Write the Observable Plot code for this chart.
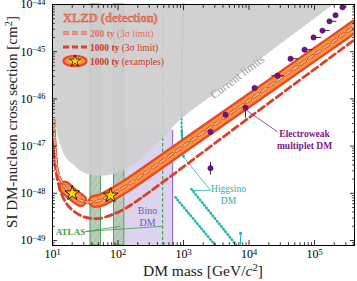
<!DOCTYPE html>
<html>
<head>
<meta charset="utf-8">
<script src="https://cdn.jsdelivr.net/npm/d3@7"></script>
<script src="https://cdn.jsdelivr.net/npm/@observablehq/plot@0.6"></script>
<style>
html,body{margin:0;padding:0;background:#fff;}
#chart svg{display:block;}
</style>
</head>
<body>
<div id="chart"></div>
<script>
// ---------------- data ----------------
// current limits (lower boundary of the grey excluded region)
const limitMass  = [10, 11.1, 12.3, 14.2, 16.9, 20.9, 26.8, 38, 54, 85, 130, 220, 372, 570, 810, 2600, 15000, 200000];
const limitSigma = [5.9e-47, 3.2e-47, 1.55e-47, 8.1e-48, 5.2e-48, 4.0e-48, 2.95e-48, 2.4e-48, 2.3e-48, 2.5e-48, 3.1e-48, 5.0e-48, 1.0e-47, 1.8e-47, 3.1e-47, 1.1e-46, 6.8e-46, 1.0e-44];

// XLZD 1000 ty 3-sigma limit
const lim1000Mass  = [10, 11.1, 12.4, 14.7, 18.8, 26.7, 38, 54, 82, 130, 221, 10500, 407000];
const lim1000Sigma = [1.35e-47, 3.4e-48, 1.55e-48, 7.8e-49, 4.8e-49, 3.4e-49, 2.95e-49, 2.95e-49, 3.55e-49, 4.8e-49, 7.8e-49, 4.2e-47, 1.8e-45];

// XLZD 200 ty 3-sigma limit
const lim200Mass  = [10.5, 11.1, 12.4, 15.8, 20.2, 26.7, 38, 54, 77, 130, 1000, 10000, 100000, 407000];
const lim200Sigma = [3.5e-47, 8.1e-48, 2.4e-48, 1.3e-48, 9.5e-49, 7.1e-49, 6.5e-49, 7.1e-49, 9.1e-49, 1.4e-48, 1.0e-47, 9.3e-47, 8.7e-46, 3.4e-45];

// 1000 ty example contours (centre lines)
const bandMass    = [44, 54, 77, 130, 1000, 10000, 100000, 407000];
const bandSigma   = [6.8e-49, 7.1e-49, 9.1e-49, 1.4e-48, 1.0e-47, 9.3e-47, 8.7e-46, 3.4e-45];
const islandMass  = [15.3, 20.2, 26.8];
const islandSigma = [1.35e-48, 9.5e-49, 7.1e-49];
const starMass    = [20, 77];
const starSigma   = [1.0e-48, 9.0e-49];

// ATLAS bands and Bino region
const atlasLo   = [38, 87];
const atlasHi   = [55, 125];
const atlasLine = [480];
const binoMass  = [125, 680];
const binoTop   = [2.2e-47];

// Higgsino DM
const higgsVertMass  = [1000, 950, 930, 940, 1000];
const higgsVertSigma = [1e-44, 1e-45, 1e-46, 2e-47, 5.9e-48];
const higgs1Mass  = [755, 3400];
const higgs1Sigma = [8.2e-49, 6.6e-50];
const higgs2Mass  = [1325, 7000];
const higgs2Sigma = [1.22e-48, 6.8e-50];
const higgs3Mass  = [7420, 7420];
const higgs3Sigma = [1.41e-49, 6.0e-50];

// Electroweak multiplet DM
const ewMass    = [2580, 2580, 4375, 8850, 12150, 27200, 43000, 70300, 96600, 132000, 169000, 209000, 267000];
const ewSigma   = [3.4e-48, 2.0e-47, 4.6e-47, 6.5e-47, 1.7e-46, 3.1e-46, 7.1e-46, 1.1e-45, 2.0e-45, 2.8e-45, 4.4e-45, 5.9e-45, 8.7e-45];
const ewMassLo  = [2580, 2580, 4375, 8850, 12150, 22000, 43000, 70300, 96600, 132000, 169000, 209000, 267000];
const ewMassHi  = [2580, 2580, 4375, 8850, 12150, 34000, 56000, 92000, 125000, 170000, 215000, 209000, 267000];
const ewSigmaLo = [2.5e-48, 2.0e-47, 4.6e-47, 4.0e-47, 1.7e-46, 3.1e-46, 7.1e-46, 1.1e-45, 2.0e-45, 2.8e-45, 4.4e-45, 5.9e-45, 8.7e-45];
const ewSigmaHi = [4.6e-48, 2.0e-47, 4.6e-47, 7.5e-47, 1.7e-46, 3.1e-46, 7.1e-46, 1.1e-45, 2.0e-45, 2.8e-45, 4.4e-45, 5.9e-45, 8.7e-45];

// annotations
const atlasLeadFrom = [31.9, 1.55e-49];
const atlasLeadTo   = [[109, 2.0e-49], [480, 2.0e-49]];
const higgsLeadFrom = [2580, 1.15e-48];
const higgsLeadTo   = [[1000, 5.9e-48], [1370, 1.15e-48]];
const ewLead        = [[8850, 5.9e-47], [27200, 2.0e-47]];

// ticks
const xMin = 10, xMax = 4.07e5, yMin = 7.83e-50, yMax = 1e-44;
const xMajor = [1e1, 1e2, 1e3, 1e4, 1e5];
const yMajor = [1e-49, 1e-48, 1e-47, 1e-46, 1e-45, 1e-44];
const xMinor = [];
for (let e = 1; e <= 5; e++) for (let k = 2; k <= 9; k++) { const v = k * 10 ** e; if (v <= xMax) xMinor.push(v); }
const yMinor = [];
for (let e = -50; e <= -45; e++) for (let k = 2; k <= 9; k++) { const v = k * Math.pow(10, e); if (v >= yMin && v <= yMax) yMinor.push(v); }

// ---------------- helpers ----------------
const idx = a => a.map((_, i) => i);
const pow = d => "10^" + Math.round(Math.log10(d));
const none = () => "";
const FONT = "'Liberation Serif', 'DejaVu Serif', serif";

const defs = () => {
  const d = d3.create("svg:defs");
  const p = d.append("pattern").attr("id", "hatch").attr("patternUnits", "userSpaceOnUse")
    .attr("width", 5).attr("height", 5).attr("patternTransform", "rotate(35)");
  p.append("rect").attr("width", 5).attr("height", 5).attr("fill", "#bccabc");
  p.append("line").attr("x1", 0).attr("y1", 0).attr("x2", 0).attr("y2", 5)
    .attr("stroke", "#9aae9b").attr("stroke-width", 1);
  return d.node();
};

const tickStyle = {stroke: "black", strokeWidth: 0.8, tickFormat: none, label: null};

const plot = Plot.plot({
  width: 357, height: 281,
  marginLeft: 52, marginRight: 3, marginTop: 4, marginBottom: 36,
  style: {fontFamily: FONT, background: "white", color: "black"},
  x: {type: "log", domain: [xMin, xMax]},
  y: {type: "log", domain: [yMin, yMax]},
  marks: [
    defs,
    // Bino region
    Plot.rect([0], {x1: () => binoMass[0], x2: () => binoMass[1], y1: () => yMin, y2: () => binoTop[0], fill: "#ddd3ee"}),
    Plot.link([0], {x1: () => binoMass[1], x2: () => binoMass[1], y1: () => yMin, y2: () => binoTop[0], stroke: "#9474cf", strokeWidth: 1.2}),
    // ATLAS bands
    Plot.rect(idx(atlasLo), {x1: i => atlasLo[i], x2: i => atlasHi[i], y1: () => yMin, y2: () => yMax, fill: "url(#hatch)", stroke: "#3f9c48", strokeWidth: 0.9}),
    Plot.link(atlasLine, {x1: d => d, x2: d => d, y1: () => yMin, y2: () => yMax, stroke: "#3f9c48", strokeWidth: 1.1, strokeDasharray: "3.5 2"}),
    // Higgsino vertical (under grey)
    Plot.line(idx(higgsVertMass), {x: higgsVertMass, y: higgsVertSigma, stroke: "#25b3a9", strokeWidth: 0.7, curve: "catmull-rom"}),
    Plot.line(idx(higgsVertMass), {x: higgsVertMass, y: higgsVertSigma, stroke: "#25b3a9", strokeWidth: 2.4, strokeDasharray: "0.1 3.6", strokeLinecap: "round", curve: "catmull-rom"}),
    // current limits
    Plot.areaY(idx(limitMass), {x: limitMass, y1: limitSigma, y2: () => yMax, fill: "#cdcdcd", fillOpacity: 0.92, curve: "catmull-rom", clip: true}),
    Plot.text([0], {x: () => 6670, y: () => 2.9e-46, text: () => "Current limits", rotate: -37, fill: "#9a9a9a", fontSize: 11.5}),
    // Higgsino (above grey)
    Plot.line(idx(higgsVertMass).slice(-2), {x: i => higgsVertMass[i], y: i => higgsVertSigma[i], stroke: "#25b3a9", strokeWidth: 2.6, strokeDasharray: "0.1 3.4", strokeLinecap: "round"}),
    Plot.line(idx(higgs1Mass), {x: higgs1Mass, y: higgs1Sigma, stroke: "#25b3a9", strokeWidth: 1, clip: true}),
    Plot.line(idx(higgs1Mass), {x: higgs1Mass, y: higgs1Sigma, stroke: "#25b3a9", strokeWidth: 2.7, strokeDasharray: "0.1 3.3", strokeLinecap: "round", clip: true}),
    Plot.line(idx(higgs2Mass), {x: higgs2Mass, y: higgs2Sigma, stroke: "#25b3a9", strokeWidth: 1, clip: true}),
    Plot.line(idx(higgs2Mass), {x: higgs2Mass, y: higgs2Sigma, stroke: "#25b3a9", strokeWidth: 2.7, strokeDasharray: "0.1 3.3", strokeLinecap: "round", clip: true}),
    Plot.line(idx(higgs3Mass), {x: higgs3Mass, y: higgs3Sigma, stroke: "#25b3a9", strokeWidth: 1, clip: true}),
    Plot.dot([0], {x: () => higgs3Mass[0], y: () => higgs3Sigma[0], r: 1.6, fill: "#25b3a9"}),
    Plot.link(higgsLeadTo, {x1: () => higgsLeadFrom[0], y1: () => higgsLeadFrom[1], x2: d => d[0], y2: d => d[1], stroke: "#25b3a9", strokeWidth: 0.8}),
    Plot.text([0], {x: () => 4860, y: () => 9.5e-49, text: () => "Higgsino\nDM", fill: "#25b3a9", fontSize: 9.5, lineHeight: 1.2}),
    // ATLAS label
    Plot.link(atlasLeadTo, {x1: () => atlasLeadFrom[0], y1: () => atlasLeadFrom[1], x2: d => d[0], y2: d => d[1], stroke: "#3f9c48", strokeWidth: 0.8}),
    Plot.text([0], {x: () => 18.8, y: () => 1.5e-49, text: () => "ATLAS", fill: "#3f9c48", fontSize: 9, fontWeight: "bold"}),
    // Bino label
    Plot.text([0], {x: () => 282, y: () => 3.3e-49, text: () => "Bino\nDM", fill: "#7b55b5", fontSize: 10, lineHeight: 1.2}),
    // XLZD example contours
    Plot.line(idx(bandMass), {x: bandMass, y: bandSigma, stroke: "#e8472b", strokeWidth: 13.5, strokeLinecap: "round", curve: "catmull-rom", clip: true}),
    Plot.line(idx(bandMass), {x: bandMass, y: bandSigma, stroke: "#f8923a", strokeWidth: 9, strokeLinecap: "round", curve: "catmull-rom", clip: true}),
    Plot.line(idx(bandMass), {x: bandMass, y: bandSigma, stroke: "#ffd23c", strokeWidth: 3.2, strokeLinecap: "round", curve: "catmull-rom", clip: true}),
    Plot.line(idx(islandMass), {x: islandMass, y: islandSigma, stroke: "#e8472b", strokeWidth: 13.5, strokeLinecap: "round", curve: "catmull-rom"}),
    Plot.line(idx(islandMass), {x: islandMass, y: islandSigma, stroke: "#f8923a", strokeWidth: 9, strokeLinecap: "round", curve: "catmull-rom"}),
    Plot.line(idx(islandMass), {x: islandMass, y: islandSigma, stroke: "#ffd23c", strokeWidth: 3.2, strokeLinecap: "round", curve: "catmull-rom"}),
    // limits
    Plot.line(idx(lim1000Mass), {x: lim1000Mass, y: lim1000Sigma, stroke: "#d8412c", strokeWidth: 2.8, strokeDasharray: "7 4", curve: "catmull-rom", clip: true}),
    Plot.line(idx(lim200Mass), {x: lim200Mass, y: lim200Sigma, stroke: "#d8452f", strokeWidth: 3.2, strokeDasharray: "6 3.5", curve: "catmull-rom", clip: true}),
    Plot.line(idx(lim200Mass), {x: lim200Mass, y: lim200Sigma, stroke: "#f5b09a", strokeWidth: 1.6, strokeDasharray: "6 3.5", curve: "catmull-rom", clip: true}),
    // stars
    Plot.dot(idx(starMass), {x: starMass, y: starSigma, symbol: "star", r: 4.6, fill: "#ffd700", stroke: "black", strokeWidth: 0.8}),
    // Electroweak multiplets
    Plot.link(idx(ewMass), {x1: ewMassLo, x2: ewMassHi, y1: ewSigma, y2: ewSigma, stroke: "#2a0a33", strokeWidth: 0.9, clip: true}),
    Plot.link(idx(ewMass), {x1: ewMass, x2: ewMass, y1: ewSigmaLo, y2: ewSigmaHi, stroke: "#2a0a33", strokeWidth: 0.9}),
    Plot.dot(idx(ewMass), {x: ewMass, y: ewSigma, r: 2.7, fill: "#6b1580", stroke: "#3b0748", strokeWidth: 0.4}),
    Plot.link([ewLead], {x1: d => d[0][0], y1: d => d[0][1], x2: d => d[1][0], y2: d => d[1][1], stroke: "#8a2a96", strokeWidth: 0.8}),
    Plot.text([0], {x: () => 70300, y: () => 1.4e-47, text: () => "Electroweak\nmultiplet DM", fill: "#7d1a8c", fontSize: 9.5, fontWeight: "bold", lineHeight: 1.25}),
    // frame and axes
    Plot.frame({stroke: "black", strokeWidth: 1}),
    Plot.axisX(xMajor, {anchor: "bottom", tickSize: -5, ...tickStyle}),
    Plot.axisX(xMinor, {anchor: "bottom", tickSize: -2.8, ...tickStyle}),
    Plot.axisX(xMajor, {anchor: "top", tickSize: -5, ...tickStyle}),
    Plot.axisX(xMinor, {anchor: "top", tickSize: -2.8, ...tickStyle}),
    Plot.axisY(yMajor, {anchor: "left", tickSize: -5, ...tickStyle}),
    Plot.axisY(yMinor, {anchor: "left", tickSize: -2.8, ...tickStyle}),
    Plot.axisY(yMajor, {anchor: "right", tickSize: -5, ...tickStyle}),
    Plot.axisY(yMinor, {anchor: "right", tickSize: -2.8, ...tickStyle}),
    Plot.axisX(xMajor, {anchor: "bottom", tickSize: 0, tickPadding: 4, tickFormat: pow, fontSize: 12, label: null}),
    Plot.axisY(yMajor, {anchor: "left", tickSize: 0, tickPadding: 7, tickFormat: pow, fontSize: 12, label: null})
  ]
});

// ---------------- post-processing: superscripts, labels, legend ----------------
const NS = "http://www.w3.org/2000/svg";
d3.select(plot).selectAll("text").each(function () {
  const m = /^10\^(-?\d+)$/.exec(this.textContent);
  if (!m) return;
  while (this.firstChild) this.removeChild(this.firstChild);
  this.appendChild(document.createTextNode("10"));
  const ts = document.createElementNS(NS, "tspan");
  ts.setAttribute("dy", "-0.42em");
  ts.setAttribute("font-size", "0.7em");
  ts.textContent = m[1].replace("-", "\u2212");
  this.appendChild(ts);
});

const svg = d3.select(plot);
// axis titles
const yl = svg.append("text").attr("transform", "translate(17,122) rotate(-90)")
  .attr("text-anchor", "middle").attr("font-family", FONT).attr("font-size", 15).attr("fill", "#222");
yl.append("tspan").text("SI DM-nucleon cross section [cm");
yl.append("tspan").attr("dy", "-0.45em").attr("font-size", "0.7em").text("2");
yl.append("tspan").attr("dy", "0.315em").text("]");

const xl = svg.append("text").attr("x", 203).attr("y", 276)
  .attr("text-anchor", "middle").attr("font-family", FONT).attr("font-size", 15.5).attr("fill", "#222");
xl.append("tspan").text("DM mass [GeV/");
xl.append("tspan").attr("font-style", "italic").text("c");
xl.append("tspan").attr("dy", "-0.45em").attr("font-size", "0.7em").text("2");
xl.append("tspan").attr("dy", "0.315em").text("]");

// legend
const lg = svg.append("g").attr("font-family", FONT).attr("text-anchor", "start");
lg.append("text").attr("x", 63).attr("y", 22).attr("font-size", 12.5).attr("font-weight", "bold")
  .attr("fill", "#ee8467").attr("stroke", "#cf4a33").attr("stroke-width", 0.35).text("XLZD (detection)");
lg.append("line").attr("x1", 63).attr("x2", 87).attr("y1", 33).attr("y2", 33)
  .attr("stroke", "#d8452f").attr("stroke-width", 3.2).attr("stroke-dasharray", "6 3");
lg.append("line").attr("x1", 63).attr("x2", 87).attr("y1", 33).attr("y2", 33)
  .attr("stroke", "#f5b09a").attr("stroke-width", 1.6).attr("stroke-dasharray", "6 3");
const t1 = lg.append("text").attr("x", 90).attr("y", 36.5).attr("font-size", 9.5).attr("fill", "#e0735c");
t1.append("tspan").attr("font-weight", "bold").text("200 ty");
t1.append("tspan").text(" (3\u03c3 limit)");
lg.append("line").attr("x1", 63).attr("x2", 87).attr("y1", 47).attr("y2", 47)
  .attr("stroke", "#d8412c").attr("stroke-width", 3).attr("stroke-dasharray", "6 3");
const t2 = lg.append("text").attr("x", 90).attr("y", 50.5).attr("font-size", 9.5).attr("fill", "#c93a28");
t2.append("tspan").attr("font-weight", "bold").text("1000 ty");
t2.append("tspan").text(" (3\u03c3 limit)");
lg.append("ellipse").attr("cx", 75).attr("cy", 61).attr("rx", 11.5).attr("ry", 5.2)
  .attr("fill", "#f8923a").attr("stroke", "#e8472b").attr("stroke-width", 2.2);
lg.append("ellipse").attr("cx", 75).attr("cy", 61).attr("rx", 6).attr("ry", 2.4).attr("fill", "#ffd23c");
lg.append("path").attr("transform", "translate(75,61)").attr("d", d3.symbol(d3.symbolStar, 40)())
  .attr("fill", "#ffd700").attr("stroke", "black").attr("stroke-width", 0.7);
const t3 = lg.append("text").attr("x", 90).attr("y", 64.5).attr("font-size", 9.5).attr("fill", "#c93a28");
t3.append("tspan").attr("font-weight", "bold").text("1000 ty");
t3.append("tspan").text(" (examples)");

document.getElementById("chart").appendChild(plot);
</script>
</body>
</html>
